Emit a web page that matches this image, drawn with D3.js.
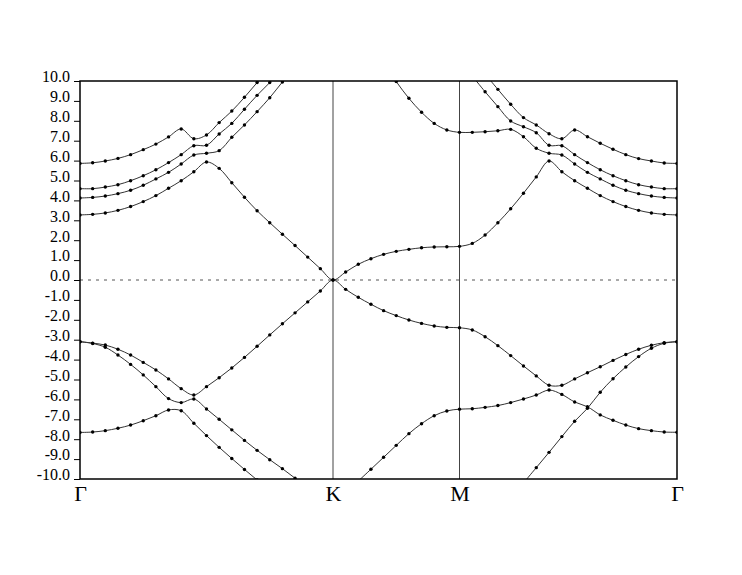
<!DOCTYPE html>
<html>
<head>
<meta charset="utf-8">
<script src="https://cdn.jsdelivr.net/npm/d3@7"></script>
<style>
body { margin: 0; background: #fff; }
text { font-family: "Liberation Serif", "Times New Roman", serif; }
</style>
</head>
<body>
<script>
// k-path index: 0..20 Γ-K, 20..30 K-M, 30..47 M-Γ
var symLabels = ["Γ", "K", "M", "Γ"];
var symIndex = [0, 20, 30, 47];
var yTicks = [10, 9, 8, 7, 6, 5, 4, 3, 2, 1, 0, -1, -2, -3, -4, -5, -6, -7, -8, -9, -10];

// energies (eV) read at each k-point, null = off the chart
var bandA = [5.86, 5.89, 5.98, 6.11, 6.30, 6.55, 6.83, 7.19, 7.59, 7.10, 7.29, 7.91, 8.49, 9.18, 9.92, 10.65, null, null, null, null, null,
  null, null, null, null, null, null, null, null, null, null,
  null, 10.35, 9.58, 8.83, 8.16, 7.79, 7.35, 7.10, 7.54, 7.20, 6.87, 6.57, 6.30, 6.10, 5.98, 5.88, 5.86];
var bandB = [4.59, 4.59, 4.67, 4.79, 4.99, 5.24, 5.54, 5.90, 6.30, 6.75, 6.77, 7.34, 7.87, 8.58, 9.28, 9.92, 10.6, null, null, null, null,
  null, null, null, null, null, null, null, null, null, null,
  10.25, 9.46, 8.71, 7.99, 7.70, 7.40, 6.77, 6.75, 6.30, 5.90, 5.54, 5.24, 4.99, 4.79, 4.67, 4.59, 4.59];
var bandC = [4.12, 4.15, 4.22, 4.34, 4.51, 4.76, 5.08, 5.41, 5.83, 6.28, 6.37, 6.50, 7.17, 7.79, 8.46, 9.16, 9.95, 10.7, null, null, null,
  null, null, null, 10.9, 9.97, 9.13, 8.43, 7.87, 7.54, 7.42,
  7.42, 7.45, 7.50, 7.57, 7.20, 6.62, 6.37, 6.28, 5.83, 5.41, 5.08, 4.76, 4.51, 4.34, 4.22, 4.15, 4.12];
var bandD = [3.27, 3.30, 3.37, 3.50, 3.69, 3.94, 4.24, 4.61, 4.99, 5.44, 5.93, 5.61, 4.89, 4.16, 3.48, 2.88, 2.30, 1.73, 1.15, 0.57, 0.00,
  0.40, 0.79, 1.07, 1.29, 1.44, 1.54, 1.62, 1.66, 1.67, 1.69,
  1.84, 2.26, 2.88, 3.58, 4.36, 5.18, 5.98, 5.44, 4.99, 4.61, 4.24, 3.94, 3.69, 3.50, 3.37, 3.30, 3.27];
var bandPi = [-3.10, -3.17, -3.27, -3.48, -3.77, -4.14, -4.52, -4.97, -5.46, -5.78, -5.36, -4.91, -4.42, -3.89, -3.33, -2.76, -2.20, -1.65, -1.10, -0.55, 0.00,
  -0.47, -0.87, -1.22, -1.54, -1.79, -2.01, -2.18, -2.31, -2.38, -2.40,
  -2.51, -2.85, -3.30, -3.80, -4.32, -4.82, -5.29, -5.29, -4.97, -4.66, -4.36, -4.04, -3.74, -3.48, -3.28, -3.15, -3.10];
var bandV2 = [-3.10, -3.19, -3.38, -3.77, -4.24, -4.77, -5.36, -5.96, -6.16, -5.98, -6.48, -7.00, -7.53, -8.06, -8.56, -9.03, -9.48, -9.96, -10.4, null, null,
  null, null, null, null, null, null, null, null, null, null,
  null, null, null, null, null, null, null, null, null, null, null, null, null, null, null, null, null];
var bandV3 = [-7.66, -7.64, -7.57, -7.45, -7.29, -7.07, -6.82, -6.53, -6.57, -7.20, -7.82, -8.41, -8.97, -9.52, -10.05, -10.6, null, null, null, null, null,
  null, null, null, null, null, null, null, null, null, null,
  null, null, null, null, null, null, null, null, null, null, null, null, null, null, null, null, null];
var bandV4 = [null, null, null, null, null, null, null, null, null, null, null, null, null, null, null, null, null, null, null, null, null,
  null, -10.1, -9.51, -8.91, -8.31, -7.72, -7.22, -6.82, -6.58, -6.49,
  -6.47, -6.40, -6.31, -6.16, -5.98, -5.78, -5.53, -5.75, -6.13, -6.37, -6.78, -7.05, -7.29, -7.47, -7.57, -7.64, -7.65];
var bandS = [null, null, null, null, null, null, null, null, null, null, null, null, null, null, null, null, null, null, null, null, null,
  null, null, null, null, null, null, null, null, null, null,
  null, null, null, null, -10.2, -9.43, -8.66, -7.87, -7.10, -6.45, -5.64, -4.96, -4.37, -3.85, -3.43, -3.18, -3.10];

var bands = [bandA, bandB, bandC, bandD, bandPi, bandV2, bandV3, bandV4, bandS];

d3.select("body").append("svg").attr("width", 742).attr("height", 575);

var svg = d3.select("svg"),
    margin = {top: 81, right: 65, bottom: 96, left: 80},
    width = +svg.attr("width") - margin.left - margin.right,
    height = +svg.attr("height") - margin.top - margin.bottom,
    g = svg.append("g").attr("transform", "translate(" + margin.left + "," + margin.top + ")");

// Γ-K, K-M, M-Γ lengths in proportion of the hexagonal zone
var x = d3.scaleLinear().domain(symIndex).range([0, 253, 379.5, width]);
var y = d3.scaleLinear().domain([-10, 10]).range([height, 0]);

g.append("clipPath").attr("id", "plot")
  .append("rect").attr("width", width).attr("height", height);

// y axis
var yAx = g.append("g")
  .call(d3.axisLeft(y).tickValues(yTicks).tickSize(6).tickPadding(4)
    .tickFormat(function(d) { return d.toFixed(1); }));
yAx.select(".domain").remove();
yAx.selectAll("text").attr("font-size", 16).attr("font-family", null).attr("dy", "0.05em").attr("fill", "#000");
yAx.selectAll("line").attr("stroke", "#000");

// x axis with high-symmetry labels
var xAx = g.append("g")
  .attr("transform", "translate(0," + height + ")")
  .call(d3.axisBottom(x).tickValues(symIndex).tickSize(0).tickPadding(6)
    .tickFormat(function(d, i) { return symLabels[i]; }));
xAx.select(".domain").remove();
xAx.selectAll("text").attr("font-size", 22).attr("font-family", null).attr("fill", "#000");

// vertical lines at K and M
g.selectAll(".sym").data(symIndex.slice(1, 3)).enter().append("line")
  .attr("x1", function(d) { return x(d); }).attr("x2", function(d) { return x(d); })
  .attr("y1", 0).attr("y2", height)
  .attr("stroke", "#444").attr("stroke-width", 1);

// Fermi level
g.append("line")
  .attr("x1", 0).attr("x2", width).attr("y1", y(0)).attr("y2", y(0))
  .attr("stroke", "#555").attr("stroke-width", 1).attr("stroke-dasharray", "3,5");

var bandLine = d3.line()
  .defined(function(d) { return d != null; })
  .x(function(d, i) { return x(i); })
  .y(function(d) { return y(d); })
  .curve(d3.curveCatmullRom.alpha(0.5));

var plot = g.append("g").attr("clip-path", "url(#plot)");

plot.selectAll(".band").data(bands).enter().append("path")
  .attr("fill", "none")
  .attr("stroke", "#333")
  .attr("stroke-width", 1)
  .attr("d", bandLine);

bands.forEach(function(b) {
  var pts = b.map(function(v, i) { return {i: i, v: v}; })
    .filter(function(p) { return p.v != null && p.v <= 10.05 && p.v >= -10.05; });
  plot.selectAll(null).data(pts).enter().append("circle")
    .attr("cx", function(p) { return x(p.i); })
    .attr("cy", function(p) { return y(p.v); })
    .attr("r", 1.7)
    .attr("fill", "#000");
});

// frame
g.append("rect")
  .attr("width", width).attr("height", height)
  .attr("fill", "none").attr("stroke", "#000").attr("stroke-width", 1.5);
</script>
</body>
</html>
